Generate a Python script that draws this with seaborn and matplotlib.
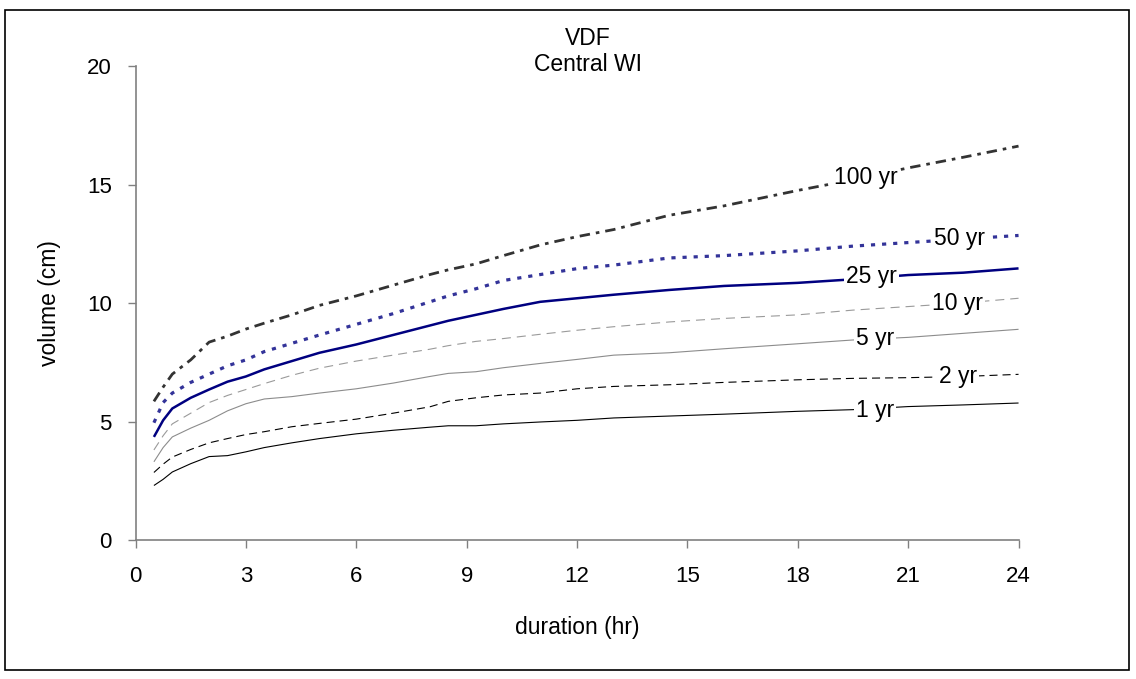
import matplotlib
matplotlib.use("Agg")
import matplotlib.pyplot as plt
import seaborn as sns
import pandas as pd
from matplotlib.patches import Rectangle

# duration (hr) at which each depth was tabulated
durations = [0.5, 0.75, 1, 1.5, 2, 2.5, 3, 3.5, 4.25, 5, 6, 7, 8, 8.5, 9.25,
             10, 11, 12, 13, 14.5, 16, 18, 19.5, 21, 22.5, 24]

# rainfall volume (cm) per return period
vol_1yr = [2.30, 2.56, 2.87, 3.22, 3.52, 3.56, 3.72, 3.90, 4.10, 4.28, 4.48, 4.63, 4.76,
           4.82, 4.82, 4.90, 4.98, 5.05, 5.15, 5.23, 5.31, 5.43, 5.50, 5.63, 5.70, 5.78]
vol_2yr = [2.85, 3.20, 3.50, 3.82, 4.10, 4.28, 4.45, 4.57, 4.78, 4.92, 5.10, 5.35, 5.62,
           5.85, 6.00, 6.12, 6.20, 6.38, 6.48, 6.55, 6.65, 6.76, 6.82, 6.85, 6.90, 6.99]
vol_5yr = [3.30, 3.90, 4.35, 4.72, 5.05, 5.45, 5.75, 5.95, 6.05, 6.20, 6.38, 6.62, 6.90,
           7.03, 7.10, 7.27, 7.45, 7.62, 7.80, 7.90, 8.07, 8.28, 8.44, 8.55, 8.72, 8.89]
vol_10yr = [3.80, 4.40, 4.90, 5.35, 5.80, 6.10, 6.35, 6.60, 6.95, 7.25, 7.55, 7.80, 8.05,
            8.20, 8.38, 8.50, 8.68, 8.85, 9.00, 9.20, 9.35, 9.50, 9.70, 9.85, 10.00, 10.20]
vol_25yr = [4.35, 5.05, 5.55, 6.00, 6.35, 6.68, 6.90, 7.20, 7.55, 7.90, 8.25, 8.65, 9.05,
            9.25, 9.50, 9.75, 10.05, 10.20, 10.35, 10.55, 10.72, 10.85, 11.00, 11.18, 11.28, 11.46]
vol_50yr = [4.95, 5.80, 6.20, 6.65, 7.00, 7.35, 7.60, 7.95, 8.30, 8.65, 9.10, 9.55, 10.05,
            10.30, 10.60, 10.95, 11.20, 11.45, 11.60, 11.90, 12.00, 12.20, 12.40, 12.55, 12.70, 12.85]
vol_100yr = [5.85, 6.45, 7.00, 7.60, 8.35, 8.60, 8.90, 9.15, 9.50, 9.90, 10.30, 10.75, 11.20,
             11.40, 11.65, 12.00, 12.45, 12.80, 13.10, 13.70, 14.10, 14.75, 15.20, 15.70, 16.15, 16.62]

series_names = ["1 yr", "2 yr", "5 yr", "10 yr", "25 yr", "50 yr", "100 yr"]
series_values = [vol_1yr, vol_2yr, vol_5yr, vol_10yr, vol_25yr, vol_50yr, vol_100yr]
# where each in-line label sits (duration, volume)
label_at = [(20.1, 5.45), (22.35, 6.92), (20.1, 8.5), (22.35, 10.0),
            (20.0, 11.1), (22.4, 12.72), (19.85, 15.3)]

x_ticks = [0, 3, 6, 9, 12, 15, 18, 21, 24]
y_ticks = [0, 5, 10, 15, 20]

# line appearance per series: color, width, dash pattern (in points)
styles = {
    "1 yr":   dict(color="#000000", lw=0.8, ls="-"),
    "2 yr":   dict(color="#000000", lw=0.8, ls=(0, (5.8, 3.6))),
    "5 yr":   dict(color="#8c8c8c", lw=0.8, ls="-"),
    "10 yr":  dict(color="#9a9a9a", lw=0.8, ls=(0, (6.5, 4.3))),
    "25 yr":  dict(color="#000080", lw=1.8, ls="-"),
    "50 yr":  dict(color="#333399", lw=2.3, ls=(0, (3.0, 5.0))),
    "100 yr": dict(color="#333333", lw=2.0, ls=(0, (7.5, 4.3, 2.6, 4.3))),
}

sns.set_theme(style="white")
plt.rcParams["font.family"] = ["Liberation Sans", "DejaVu Sans"]
plt.rcParams["lines.scale_dashes"] = False
plt.rcParams["text.color"] = "black"
plt.rcParams["axes.labelcolor"] = "black"
plt.rcParams["xtick.color"] = "black"
plt.rcParams["ytick.color"] = "black"

fig = plt.figure(figsize=(11.36, 6.79), dpi=100)
ax = fig.add_axes([0.1193, 0.2047, 0.7773, 0.6981])

for name, vals in zip(series_names, series_values):
    df = pd.DataFrame({"duration": durations, "volume": vals})
    st = styles[name]
    sns.lineplot(data=df, x="duration", y="volume", ax=ax, color=st["color"],
                 linewidth=st["lw"], linestyle=st["ls"], estimator=None,
                 sort=False, legend=False, solid_capstyle="butt",
                 dash_capstyle="butt")

for name, (lx, ly) in zip(series_names, label_at):
    ax.text(lx, ly, name, fontsize=16.5, ha="center", va="center", zorder=5,
            color="black",
            bbox=dict(facecolor="white", edgecolor="none", pad=1.5))

ax.set_xlim(0, 24)
ax.set_ylim(0, 20)
ax.set_xticks(x_ticks)
ax.set_yticks(y_ticks)
ax.tick_params(axis="both", which="major", direction="out", length=6, width=1,
               color="#808080", labelcolor="black", labelsize=16,
               left=True, bottom=True)
ax.tick_params(axis="x", pad=12.5)
ax.tick_params(axis="y", pad=11)
for side in ["top", "right"]:
    ax.spines[side].set_visible(False)
for side in ["left", "bottom"]:
    ax.spines[side].set_color("#808080")
    ax.spines[side].set_linewidth(1.2)

ax.set_xlabel("duration (hr)", fontsize=16.5, labelpad=21, color="black")
ax.set_ylabel("volume (cm)", fontsize=16.5, labelpad=19, color="black")

fig.text(0.5176, 1 - 38.5 / 679, "VDF", ha="center", va="center", fontsize=16.5)
fig.text(0.5176, 1 - 64.5 / 679, "Central WI", ha="center", va="center", fontsize=16.5)

# chart frame
fig.patches.append(Rectangle((5 / 1136, 1 - 670 / 679), 1124 / 1136, 660 / 679,
                             transform=fig.transFigure, fill=False,
                             edgecolor="black", linewidth=1.2))

fig.savefig("out.png", dpi=100)
